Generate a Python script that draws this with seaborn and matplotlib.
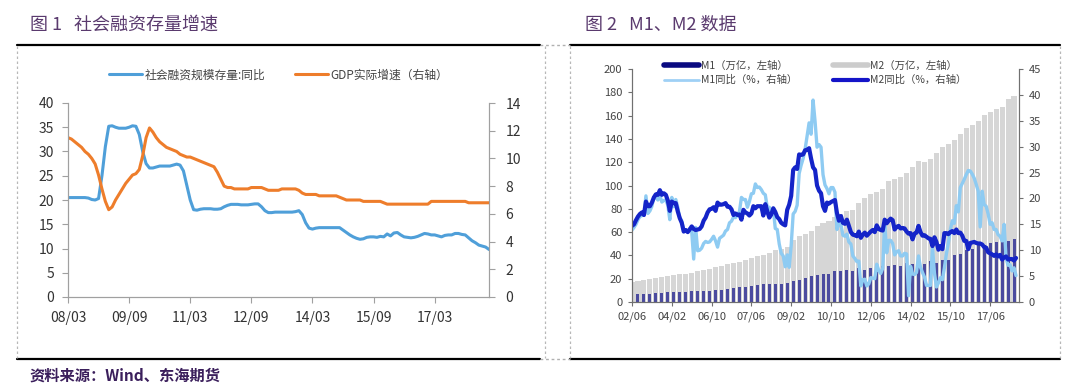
import numpy as np
import pandas as pd
import matplotlib
matplotlib.use('Agg')
import matplotlib.pyplot as plt
from matplotlib.lines import Line2D
import seaborn as sns

sns.set_style('white')
plt.rcParams['font.family'] = ['Noto Sans CJK SC', 'DejaVu Sans']
plt.rcParams['axes.unicode_minus'] = False

# ---- chart 1: monthly, 2008-03 .. 2018-07 ----
sf_yoy = [
    20.5, 20.5, 20.5, 20.5, 20.5, 20.5, 20.4, 20.1, 20.0, 20.3,              # 2008
    25.0, 31.0, 35.2, 35.3, 35.0, 34.8, 34.8, 34.8, 35.0, 35.3, 35.2, 33.5,  # 2009
    30.0, 27.5, 26.6, 26.6, 26.8, 27.0, 27.0, 27.0, 27.0, 27.2, 27.4, 27.2,  # 2010
    26.0, 23.0, 20.0, 18.0, 17.9, 18.1, 18.2, 18.2, 18.2, 18.1, 18.1, 18.2,  # 2011
    18.6, 18.9, 19.1, 19.1, 19.1, 19.0, 19.0, 19.0, 19.1, 19.2, 19.2, 18.6,  # 2012
    17.8, 17.4, 17.4, 17.5, 17.5, 17.5, 17.5, 17.5, 17.5, 17.6, 17.8, 17.0,  # 2013
    15.3, 14.2, 14.0, 14.2, 14.3, 14.3, 14.3, 14.3, 14.3, 14.3, 14.3, 13.8,  # 2014
    13.3, 12.8, 12.4, 12.1, 11.9, 12.0, 12.3, 12.4, 12.4, 12.3, 12.5, 12.4,  # 2015
    13.0, 12.6, 13.2, 13.3, 12.8, 12.4, 12.3, 12.2, 12.3, 12.5, 12.8, 13.1,  # 2016
    13.0, 12.8, 12.8, 12.6, 12.4, 12.7, 12.8, 12.8, 13.1, 13.1, 12.9, 12.8,  # 2017
    12.2, 11.6, 11.2, 10.7, 10.5, 10.3, 9.8,                                 # 2018
]
gdp_yoy = [
    11.5, 11.4, 11.2, 11.0, 10.8, 10.5, 10.3, 10.0, 9.6, 8.8,
    7.8, 6.9, 6.3, 6.5, 7.0, 7.4, 7.8, 8.2, 8.5, 8.8, 8.9, 9.2,
    10.2, 11.5, 12.2, 11.9, 11.5, 11.2, 11.0, 10.8, 10.7, 10.6, 10.5, 10.3,
    10.2, 10.1, 10.1, 10.0, 9.9, 9.8, 9.7, 9.6, 9.5, 9.4, 9.0, 8.5,
    8.0, 7.9, 7.9, 7.8, 7.8, 7.8, 7.8, 7.8, 7.9, 7.9, 7.9, 7.9,
    7.8, 7.7, 7.7, 7.7, 7.7, 7.8, 7.8, 7.8, 7.8, 7.8, 7.7, 7.5,
    7.4, 7.4, 7.4, 7.4, 7.3, 7.3, 7.3, 7.3, 7.3, 7.3, 7.2, 7.1,
    7.0, 7.0, 7.0, 7.0, 7.0, 6.9, 6.9, 6.9, 6.9, 6.9, 6.9, 6.8,
    6.7, 6.7, 6.7, 6.7, 6.7, 6.7, 6.7, 6.7, 6.7, 6.7, 6.7, 6.7,
    6.7, 6.9, 6.9, 6.9, 6.9, 6.9, 6.9, 6.9, 6.9, 6.9, 6.9, 6.9,
    6.8, 6.8, 6.8, 6.8, 6.8, 6.8, 6.8,
]
left_ticks = ['08/03', '09/09', '11/03', '12/09', '14/03', '15/09', '17/03']
left_labels = ['社会融资规模存量:同比', 'GDP实际增速（右轴）']

# ---- chart 2: quarterly stock (万亿), 2002-06 .. 2018-06 ----
m2_stock = [
    17.0, 17.7, 18.5, 19.4, 20.5, 21.1, 22.1, 22.8, 23.8, 24.3, 25.3, 26.4, 27.6,
    28.7, 29.9, 31.0, 32.3, 33.1, 34.6, 36.4, 37.8, 39.3, 40.3, 42.3, 44.3, 45.3,
    47.5, 53.1, 56.9, 58.5, 61.0, 64.9, 67.4, 69.6, 72.6, 75.8, 78.1, 78.7, 85.2,
    89.6, 92.5, 94.4, 97.4, 103.6, 105.4, 107.7, 110.7, 116.1, 121.0, 120.2, 122.8,
    127.5, 133.3, 135.9, 139.2, 144.6, 149.0, 151.6, 155.0, 160.1, 163.1, 165.6,
    167.7, 174.0, 177.0,
]
m1_stock = [
    6.6, 6.9, 7.1, 7.0, 7.6, 7.9, 8.4, 8.3, 8.7, 8.9, 9.6, 9.1, 9.5,
    9.8, 10.7, 10.6, 11.3, 11.7, 12.6, 12.7, 13.6, 14.3, 15.3, 15.1, 15.5, 15.5,
    16.6, 17.6, 19.3, 20.2, 22.0, 22.9, 24.0, 24.4, 26.7, 26.6, 27.5, 26.7, 29.0,
    27.8, 28.8, 28.7, 30.9, 31.1, 31.4, 31.2, 33.7, 32.8, 34.1, 32.7, 34.8,
    33.7, 35.7, 36.4, 40.1, 41.1, 44.4, 45.5, 48.7, 48.9, 51.0, 51.8,
    54.4, 52.4, 54.4,
]
# monthly yoy (%), 2002-06 .. 2018-07
m2_yoy = [
    14.7, 15.0, 15.8, 16.5, 17.0, 17.3, 16.8,
    19.4, 18.5, 18.5, 19.2, 20.2, 20.8, 20.7, 21.6, 20.7, 21.0, 20.7, 19.6,
    17.6, 19.4, 19.1, 19.1, 17.5, 16.2, 15.3, 13.6, 13.9, 13.5, 14.0, 14.6,
    14.1, 13.9, 14.0, 14.1, 14.6, 15.7, 16.3, 17.3, 17.9, 18.0, 18.3, 17.6,
    19.2, 18.8, 18.8, 18.9, 19.1, 18.4, 18.4, 17.9, 16.8, 17.1, 16.8, 16.9,
    15.9, 17.8, 17.3, 17.1, 16.7, 17.1, 18.5, 18.1, 18.5, 18.5, 18.5, 16.7,
    18.9, 17.5, 16.3, 16.9, 18.1, 17.4, 16.4, 16.0, 15.3, 15.0, 14.8, 17.8,
    18.8, 20.5, 25.5, 26.0, 25.7, 28.5, 28.4, 28.5, 29.3, 29.4, 29.7, 27.7,
    26.0, 25.5, 22.5, 21.5, 21.0, 18.5, 17.6, 19.2, 19.0, 19.3, 19.5, 19.7,
    17.2, 15.7, 16.6, 15.3, 15.1, 15.9, 14.7, 13.5, 13.0, 12.9, 12.7, 13.6,
    12.4, 13.0, 13.4, 12.8, 13.2, 13.6, 13.9, 13.5, 14.8, 14.1, 13.9, 13.8,
    15.9, 15.2, 15.7, 16.1, 15.8, 14.0, 14.5, 14.7, 14.2, 14.3, 14.2, 13.6,
    13.2, 13.3, 12.1, 13.2, 13.4, 14.7, 13.5, 12.8, 12.9, 12.6, 12.3, 12.2,
    10.8, 12.5, 11.6, 10.1, 10.8, 10.2, 13.3, 13.3, 13.1, 13.5, 13.7, 13.3,
    14.0, 13.3, 13.4, 12.8, 11.8, 11.8, 10.2, 11.4, 11.5, 11.6, 11.4, 11.3,
    11.3, 11.1, 10.6, 10.5, 9.6, 9.4, 9.2, 8.9, 9.2, 8.8, 9.1, 8.2,
    8.6, 8.8, 8.2, 8.3, 8.3, 8.0, 8.5,
]
m1_yoy = [
    13.9, 14.4, 15.0, 15.9, 16.5, 16.7, 16.8,
    20.5, 17.1, 17.6, 18.5, 20.2, 20.2, 19.7, 20.6, 19.3, 19.6, 19.7, 18.7,
    15.9, 20.2, 18.4, 19.8, 18.3, 16.2, 15.7, 13.7, 13.9, 13.6, 14.2, 13.6,
    8.3, 14.4, 9.9, 10.0, 10.4, 11.3, 11.7, 11.5, 11.6, 12.1, 12.7, 11.8,
    10.6, 12.3, 12.6, 12.9, 13.7, 14.0, 15.3, 15.6, 16.4, 16.3, 16.8, 17.5,
    20.2, 19.8, 19.8, 18.3, 19.4, 20.9, 21.0, 22.8, 22.1, 22.2, 21.7, 21.0,
    20.7, 18.2, 18.3, 16.9, 18.1, 14.2, 14.0, 11.2, 9.4, 8.9, 6.8, 9.1,
    6.7, 10.9, 17.0, 17.5, 18.7, 24.8, 26.4, 27.7, 29.5, 32.0, 34.6, 32.4,
    39.0, 34.9, 29.9, 30.4, 29.9, 24.6, 22.6, 21.9, 20.9, 22.1, 22.1, 21.2,
    14.0, 15.3, 15.0, 12.9, 12.7, 13.1, 11.6, 11.2, 8.9, 8.4, 7.8, 7.9,
    3.1, 4.3, 4.4, 3.1, 3.5, 4.7, 4.6, 4.5, 7.3, 6.1, 5.5, 6.5,
    15.3, 9.5, 11.9, 11.9, 11.3, 9.1, 9.7, 9.9, 8.9, 8.9, 9.4, 9.3,
    1.2, 6.9, 5.4, 5.3, 5.7, 8.9, 6.7, 5.7, 4.8, 3.2, 3.2, 3.2,
    10.6, 5.6, 2.9, 3.7, 4.7, 4.3, 6.6, 9.3, 11.4, 14.0, 15.7, 15.2,
    18.6, 17.4, 22.1, 22.9, 23.7, 24.6, 25.4, 25.3, 24.7, 23.9, 22.7, 21.4,
    14.5, 21.4, 18.8, 18.5, 17.0, 15.0, 15.3, 14.0, 14.0, 13.0, 12.7, 11.8,
    15.0, 8.5, 7.1, 7.2, 6.0, 6.6, 5.1,
]
right_ticks = ['02/06', '04/02', '06/10', '07/06', '09/02', '10/10', '12/06', '14/02', '15/10', '17/06']
right_labels = ['M1（万亿，左轴）', 'M1同比（%，右轴）', 'M2（万亿，左轴）', 'M2同比（%，右轴）']

W, H = 1080, 389


def box(x0, y0, x1, y1):
    # pixel box -> figure fraction rect
    return [x0 / W, 1 - y1 / H, (x1 - x0) / W, (y1 - y0) / H]


fig = plt.figure(figsize=(10.8, 3.89), dpi=100)

# ---------------- chart 1 ----------------
ax1 = fig.add_axes(box(68, 103, 489, 297))
ax1r = ax1.twinx()
df1 = pd.DataFrame({'m': np.arange(len(sf_yoy)), 'sf': sf_yoy, 'gdp': gdp_yoy})
sns.lineplot(data=df1, x='m', y='sf', ax=ax1, color='#4f9fd9', lw=2.2)
sns.lineplot(data=df1, x='m', y='gdp', ax=ax1r, color='#ee7d2b', lw=2.2)

ax1.set_xlim(0, len(sf_yoy) - 1)
ax1.set_ylim(0, 40)
ax1.set_yticks(range(0, 41, 5))
ax1r.set_ylim(0, 14)
ax1r.set_yticks(range(0, 15, 2))
ax1.set_xticks(range(0, 18 * len(left_ticks), 18))
ax1.set_xticklabels(left_ticks)
for a in (ax1, ax1r):
    a.set_xlabel('')
    a.set_ylabel('')
    a.spines['top'].set_visible(False)
    for s in ('left', 'right', 'bottom'):
        a.spines[s].set_color('#a0a0a0')
ax1.tick_params(axis='both', labelsize=10, colors='#333333', length=4, left=True, bottom=True, pad=6)
ax1.tick_params(axis='both', color='#a0a0a0')
ax1r.tick_params(axis='y', labelsize=10, colors='#333333', length=4, right=True, pad=8)
ax1r.tick_params(axis='y', color='#a0a0a0')

h1 = [Line2D([], [], color='#4f9fd9', lw=2.2), Line2D([], [], color='#ee7d2b', lw=2.2)]
leg1 = ax1.legend(h1, left_labels, loc='center', bbox_to_anchor=(0.5, 1 + 28 / 194), ncol=2,
                  frameon=False, fontsize=8.5, handlelength=2.8, handletextpad=0.2, columnspacing=2.5)
for t in leg1.get_texts():
    t.set_color('#444444')

# ---------------- chart 2 ----------------
ax2 = fig.add_axes(box(632, 69, 1019, 302))
ax2r = ax2.twinx()
df2 = pd.DataFrame({'q': np.arange(len(m2_stock)) * 3, 'm2': m2_stock, 'm1': m1_stock})
sns.barplot(data=df2, x='q', y='m2', native_scale=True, width=0.85, color='#d6d6d6',
            saturation=1, linewidth=0, edgecolor='none', errorbar=None, ax=ax2)
sns.barplot(data=df2, x='q', y='m1', native_scale=True, width=0.5, color='#4b4b9f',
            saturation=1, linewidth=0, edgecolor='none', errorbar=None, ax=ax2)
df3 = pd.DataFrame({'m': np.arange(len(m2_yoy)), 'm1y': m1_yoy, 'm2y': m2_yoy})
sns.lineplot(data=df3, x='m', y='m1y', ax=ax2r, color='#8ecbf2', lw=2.4)
sns.lineplot(data=df3, x='m', y='m2y', ax=ax2r, color='#1424c8', lw=3)

ax2.set_xlim(0, len(m2_yoy) + 0.5)
ax2.set_ylim(0, 200)
ax2.set_yticks(range(0, 201, 20))
ax2r.set_ylim(0, 45)
ax2r.set_yticks(range(0, 46, 5))
ax2.set_xticks(range(0, 20 * len(right_ticks), 20))
ax2.set_xticklabels(right_ticks)
for a in (ax2, ax2r):
    a.set_xlabel('')
    a.set_ylabel('')
    a.spines['top'].set_visible(False)
    for s in ('left', 'right', 'bottom'):
        a.spines[s].set_color('#707070')
ax2.tick_params(axis='both', labelsize=8, colors='#444444', length=3, left=True, bottom=True, pad=4)
ax2.tick_params(axis='both', color='#707070')
ax2r.tick_params(axis='y', labelsize=8, colors='#444444', length=3, right=True, pad=4)
ax2r.tick_params(axis='y', color='#707070')

h2 = [Line2D([], [], color='#0a0a80', lw=4), Line2D([], [], color='#9fd0f5', lw=2),
      Line2D([], [], color='#cccccc', lw=4), Line2D([], [], color='#1414c8', lw=3)]
leg2 = ax2r.legend(h2, right_labels, loc='upper center', bbox_to_anchor=(0.473, 1.035), ncol=2,
                   frameon=False, fontsize=7.5, handlelength=3.4, handletextpad=0.2,
                   columnspacing=3.4, labelspacing=0.4, borderpad=0, borderaxespad=0)
for t in leg2.get_texts():
    t.set_color('#444444')

# ---------------- frame, titles, source ----------------
def hline(x0, x1, y, **kw):
    fig.add_artist(Line2D([x0 / W, x1 / W], [1 - y / H, 1 - y / H], **kw))


def vline(x, y0, y1, **kw):
    fig.add_artist(Line2D([x / W, x / W], [1 - y0 / H, 1 - y1 / H], **kw))


hline(17, 540, 45, color='black', lw=1.6)
hline(17, 540, 359, color='black', lw=1.6)
hline(570, 1060, 45, color='black', lw=1.6)
hline(570, 1060, 359, color='black', lw=1.6)
hline(540, 570, 45, color='#b0b0b0', lw=1, ls=(0, (2, 2)))
hline(540, 570, 359, color='#b0b0b0', lw=1, ls=(0, (2, 2)))
for xv in (17, 545, 570, 1060):
    vline(xv, 46, 358, color='#b8b8b8', lw=0.9, ls=(0, (2, 2)))

fig.text(30 / W, 1 - 25 / H, '图 1   社会融资存量增速', fontsize=13, color='#5a3a6e', va='center')
fig.text(585 / W, 1 - 25 / H, '图 2   M1、M2 数据', fontsize=13, color='#5a3a6e', va='center')
fig.text(30 / W, 1 - 376 / H, '资料来源：Wind、东海期货', fontsize=11, fontweight='bold',
         color='#3b1f5c', va='center')

fig.savefig('out.png', dpi=100)
